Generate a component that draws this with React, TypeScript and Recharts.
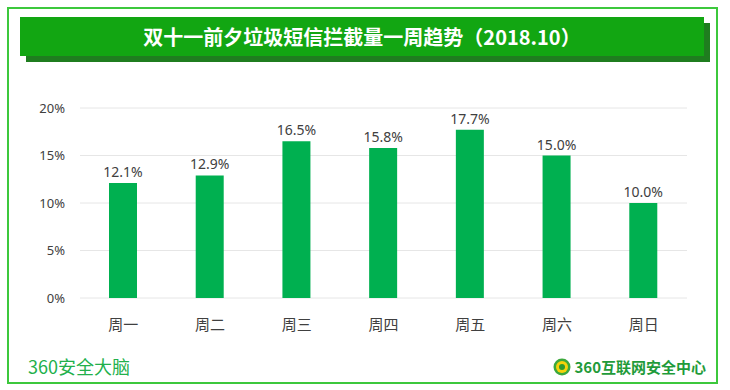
import React from "react";
import { BarChart, Bar, XAxis, YAxis, CartesianGrid, LabelList } from "recharts";

const days = ["周一", "周二", "周三", "周四", "周五", "周六", "周日"];
const shares = [12.1, 12.9, 16.5, 15.8, 17.7, 15.0, 10.0];
const yTicks = [0, 5, 10, 15, 20];

const title = "双十一前夕垃圾短信拦截量一周趋势（2018.10）";
const footLeft = "360安全大脑";
const footRight = "360互联网安全中心";

const font = '"Noto Sans", "Noto Sans CJK SC", sans-serif';

const App = () => {
  const data = days.map((d, i) => ({ day: d, value: shares[i] }));
  return (
    <div
      style={{
        position: "absolute",
        left: 0,
        top: 0,
        width: 730,
        height: 390,
        background: "#fff",
        fontFamily: font,
      }}
    >
      {/* outer frame */}
      <div
        style={{
          position: "absolute",
          left: 7,
          top: 7,
          width: 707,
          height: 373,
          border: "2px solid #3cc83c",
        }}
      />
      {/* title bar with shadow */}
      <div
        style={{
          position: "absolute",
          left: 26,
          top: 23,
          width: 684,
          height: 39,
          background: "#1f7d1f",
        }}
      />
      <div
        style={{
          position: "absolute",
          left: 20,
          top: 17,
          width: 684,
          height: 39,
          background: "#12a612",
          color: "#fff",
          fontSize: 20,
          fontWeight: 700,
          lineHeight: "39px",
          textAlign: "center",
          fontFamily: '"Noto Sans CJK SC", sans-serif',
        }}
      >
        {title}
      </div>

      <div style={{ position: "absolute", left: 0, top: 0 }}>
        <BarChart
          width={730}
          height={390}
          data={data}
          margin={{ top: 108, right: 43, left: 0, bottom: 62 }}
        >
          <CartesianGrid vertical={false} stroke="#e6e6e6" />
          <XAxis
            dataKey="day"
            height={30}
            axisLine={false}
            tickLine={false}
            tickMargin={15}
            tick={{ fill: "#404040", fontSize: 15, fontFamily: '"Noto Sans CJK SC", sans-serif' }}
          />
          <YAxis
            width={80}
            domain={[0, 20]}
            ticks={yTicks}
            axisLine={false}
            tickLine={false}
            tickMargin={9}
            tickFormatter={(v: number) => `${v}%`}
            tick={{ fill: "#404040", fontSize: 13, fontFamily: font }}
          />
          <Bar dataKey="value" fill="#00b050" barSize={28} isAnimationActive={false}>
            <LabelList
              dataKey="value"
              position="top"
              offset={6}
              formatter={(v: number) => `${v.toFixed(1)}%`}
              style={{ fill: "#404040", fontSize: 14, fontFamily: font }}
            />
          </Bar>
        </BarChart>
      </div>

      {/* footer */}
      <div
        style={{
          position: "absolute",
          left: 28,
          top: 353,
          fontSize: 18,
          color: "#22b04b",
          fontFamily: '"Noto Sans CJK SC", sans-serif',
        }}
      >
        {footLeft}
      </div>
      <div
        style={{
          position: "absolute",
          right: 24,
          top: 356,
          display: "flex",
          alignItems: "center",
          gap: 3,
        }}
      >
        <svg width={18} height={18}>
          <circle cx={9} cy={9} r={8.5} fill="#3ca83c" />
          <circle cx={9} cy={9} r={6} fill="#f5d20a" />
          <circle cx={9} cy={9} r={3} fill="#2e9a2e" />
        </svg>
        <span
          style={{
            fontSize: 15,
            fontWeight: 700,
            color: "#1f9b3a",
            fontFamily: '"Noto Sans CJK SC", sans-serif',
          }}
        >
          {footRight}
        </span>
      </div>
    </div>
  );
};

export default App;
